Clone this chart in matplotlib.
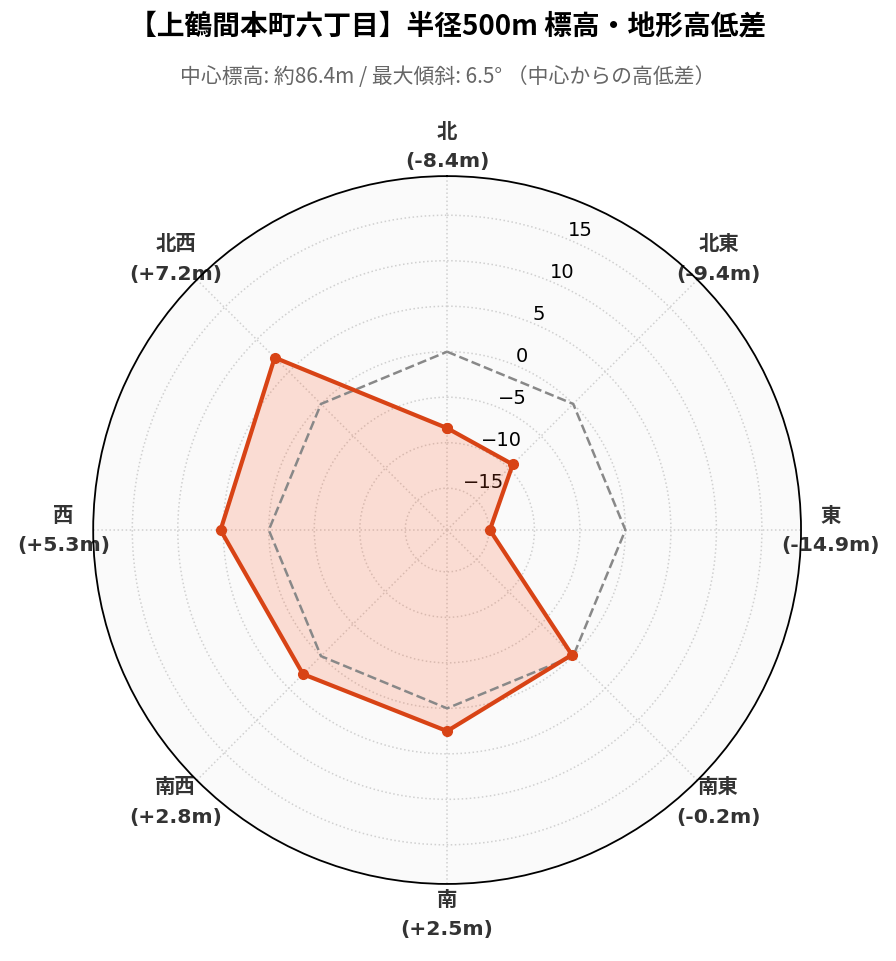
import numpy as np
import matplotlib
matplotlib.use("Agg")
import matplotlib.pyplot as plt

plt.rcParams['font.family'] = ['DejaVu Sans', 'Noto Sans CJK JP']

# directions clockwise from north, elevation difference from center (m)
directions = ["北", "北東", "東", "南東", "南", "南西", "西", "北西"]
diffs = [-8.4, -9.4, -14.9, -0.2, 2.5, 2.8, 5.3, 7.2]
r_ticks = [-15, -10, -5, 0, 5, 10, 15]

title = "【上鶴間本町六丁目】半径500m 標高・地形高低差"
subtitle = "中心標高: 約86.4m / 最大傾斜: 6.5° （中心からの高低差）"

line_color = "#d84315"
fill_color = "#ff5722"

angles = np.linspace(0, 2 * np.pi, len(directions), endpoint=False)
ang_c = np.concatenate([angles, angles[:1]])
val_c = np.concatenate([diffs, diffs[:1]])

fig = plt.figure(figsize=(8.96, 9.62), dpi=100)
ax = fig.add_axes([0.104, 0.080, 0.790, 0.736], projection='polar')
ax.set_theta_zero_location('N')
ax.set_theta_direction(-1)
ax.set_facecolor('#fafafa')

ax.set_ylim(-19.6, 19.3)
ax.set_yticks(r_ticks)
ax.tick_params(axis='y', labelsize=14, colors='black')

# zero reference
ax.plot(ang_c, np.zeros_like(val_c), color='#888888', lw=1.8, ls='--', zorder=3)

ax.fill(ang_c, val_c, color=fill_color, alpha=0.18, lw=0, zorder=2)
ax.plot(ang_c, val_c, color=line_color, lw=3, marker='o', ms=7, zorder=4)

labels = [f"{d}\n({v:+.1f}m)" for d, v in zip(directions, diffs)]
ax.set_xticks(angles)
ax.set_xticklabels(labels, fontsize=14.7, fontweight='bold', color='#333333',
                   linespacing=1.7)
ax.tick_params(axis='x', pad=11)

ax.grid(True, color='#d0d0d0', ls=':', lw=1.1)
ax.spines['polar'].set_color('black')
ax.spines['polar'].set_linewidth(1.3)

fig.text(0.5, 0.972, title, ha='center', va='center', fontsize=20,
         fontweight='bold', family=['Noto Sans CJK JP', 'DejaVu Sans'])
fig.text(0.5, 0.920, subtitle, ha='center', va='center', fontsize=15,
         color='#666666', family=['Noto Sans CJK JP', 'DejaVu Sans'])

fig.savefig("out.png", dpi=100)
